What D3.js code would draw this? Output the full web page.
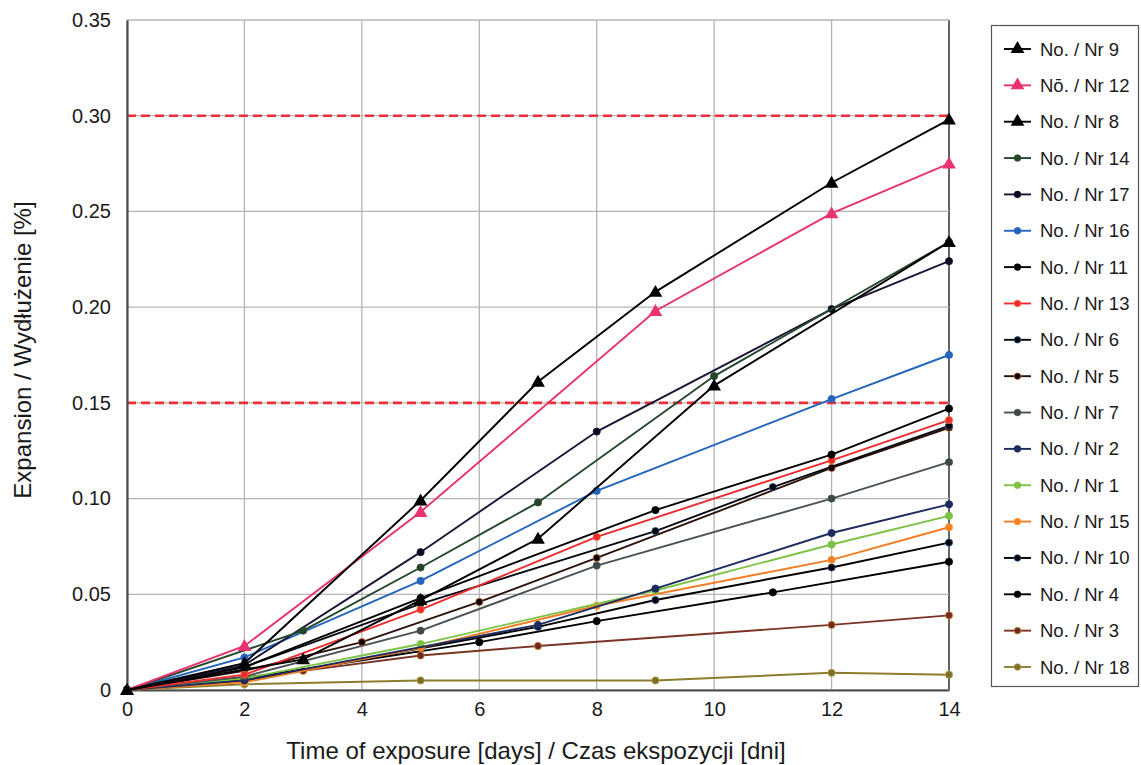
<!DOCTYPE html>
<html><head><meta charset="utf-8">
<script src="https://cdn.jsdelivr.net/npm/d3@7"></script>
<style>
body{margin:0;background:#fff}
text{font-family:"Liberation Sans",Arial,sans-serif;fill:#1a1a1a}
</style>
</head><body>
<svg id="chart" width="1141" height="765"></svg>
<script>
// ---- data ----
const xTicks = [0, 2, 4, 6, 8, 10, 12, 14];
const yTicks = [0, 0.05, 0.10, 0.15, 0.20, 0.25, 0.30, 0.35];
const limitLines = [0.30, 0.15];
const xTitle = "Time of exposure [days] / Czas ekspozycji [dni]";
const yTitle = "Expansion / Wydłużenie [%]";

const seriesNames = ["No. / Nr 9", "Nō. / Nr 12", "No. / Nr 8", "No. / Nr 14", "No. / Nr 17", "No. / Nr 16",
  "No. / Nr 11", "No. / Nr 13", "No. / Nr 6", "No. / Nr 5", "No. / Nr 7", "No. / Nr 2", "No. / Nr 1",
  "No. / Nr 15", "No. / Nr 10", "No. / Nr 4", "No. / Nr 3", "No. / Nr 18"];

const daysNr9  = [0, 2, 5, 7, 9, 12, 14];
const expNr9   = [0, 0.014, 0.099, 0.161, 0.208, 0.265, 0.298];
const daysNr12 = [0, 2, 5, 9, 12, 14];
const expNr12  = [0, 0.023, 0.093, 0.198, 0.249, 0.275];
const daysNr8  = [0, 3, 5, 7, 10, 14];
const expNr8   = [0, 0.016, 0.047, 0.079, 0.159, 0.234];
const daysNr14 = [0, 3, 5, 7, 10, 14];
const expNr14  = [0, 0.031, 0.064, 0.098, 0.164, 0.234];
const daysNr17 = [0, 2, 5, 8, 12, 14];
const expNr17  = [0, 0.013, 0.072, 0.135, 0.199, 0.224];
const daysNr16 = [0, 2, 5, 8, 12, 14];
const expNr16  = [0, 0.017, 0.057, 0.104, 0.152, 0.175];
const daysNr11 = [0, 2, 5, 9, 12, 14];
const expNr11  = [0, 0.012, 0.048, 0.094, 0.123, 0.147];
const daysNr13 = [0, 2, 5, 8, 12, 14];
const expNr13  = [0, 0.008, 0.042, 0.080, 0.120, 0.141];
const daysNr6  = [0, 2, 5, 9, 11, 14];
const expNr6   = [0, 0.012, 0.045, 0.083, 0.106, 0.138];
const daysNr5  = [0, 2, 4, 6, 8, 12, 14];
const expNr5   = [0, 0.010, 0.025, 0.046, 0.069, 0.116, 0.137];
const daysNr7  = [0, 2, 5, 8, 12, 14];
const expNr7   = [0, 0.007, 0.031, 0.065, 0.100, 0.119];
const daysNr2  = [0, 2, 7, 9, 12, 14];
const expNr2   = [0, 0.005, 0.034, 0.053, 0.082, 0.097];
const daysNr1  = [0, 2, 5, 9, 12, 14];
const expNr1   = [0, 0.006, 0.024, 0.052, 0.076, 0.091];
const daysNr15 = [0, 2, 5, 8, 12, 14];
const expNr15  = [0, 0.004, 0.022, 0.044, 0.068, 0.085];
const daysNr10 = [0, 2, 7, 9, 12, 14];
const expNr10  = [0, 0.005, 0.033, 0.047, 0.064, 0.077];
const daysNr4  = [0, 2, 6, 8, 11, 14];
const expNr4   = [0, 0.006, 0.025, 0.036, 0.051, 0.067];
const daysNr3  = [0, 3, 5, 7, 12, 14];
const expNr3   = [0, 0.010, 0.018, 0.023, 0.034, 0.039];
const daysNr18 = [0, 2, 5, 9, 12, 14];
const expNr18  = [0, 0.003, 0.005, 0.005, 0.009, 0.008];

const seriesDays = [daysNr9, daysNr12, daysNr8, daysNr14, daysNr17, daysNr16, daysNr11, daysNr13, daysNr6,
  daysNr5, daysNr7, daysNr2, daysNr1, daysNr15, daysNr10, daysNr4, daysNr3, daysNr18];
const seriesExp = [expNr9, expNr12, expNr8, expNr14, expNr17, expNr16, expNr11, expNr13, expNr6,
  expNr5, expNr7, expNr2, expNr1, expNr15, expNr10, expNr4, expNr3, expNr18];

// ---- styles ----
const lineColors = ["#000000", "#e8336f", "#000000", "#24472a", "#1b1535", "#2464bd", "#000000", "#ee2a2e",
  "#0a0a14", "#2a1208", "#4a5252", "#1e2b5e", "#7cc245", "#f47c22", "#000000", "#000000", "#7a3324", "#8c7d2e"];
const markerFills = ["#000000", "#e8336f", "#000000", "#24472a", "#0d0a20", "#2464bd", "#000000", "#ee2a2e",
  "#000000", "#000000", "#3d4848", "#1e2b5e", "#7cc245", "#f47c22", "#000000", "#000000", "#6e2a1e", "#7d6f2a"];
const markerEdges = ["#000000", "#e8336f", "#000000", "#24472a", "#1b1535", "#2464bd", "#000000", "#f07030",
  "#2a5aa0", "#e06a30", "#4a5252", "#1e2b5e", "#7cc245", "#f8a030", "#2a5aa0", "#000000", "#d08a30", "#b8a040"];
const markerShapes = ["tri", "tri", "tri", "dot", "dot", "dot", "dot", "dot", "dot", "dot", "dot", "dot", "dot",
  "dot", "dot", "dot", "dot", "dot"];

const series = seriesNames.map((name, i) => ({
  name, days: seriesDays[i], exp: seriesExp[i],
  color: lineColors[i], fill: markerFills[i], edge: markerEdges[i], shape: markerShapes[i]
}));

// ---- chart ----
const svg = d3.select("#chart");
const L = 127, R = 949, T = 20, B = 690;
const x = d3.scaleLinear().domain([0, 14]).range([L, R]);
const y = d3.scaleLinear().domain([0, 0.35]).range([B, T]);

// grid
const grid = svg.append("g");
grid.selectAll("line.v").data(xTicks).join("line")
  .attr("x1", d => x(d)).attr("x2", d => x(d)).attr("y1", T).attr("y2", B)
  .attr("stroke", d => d === 14 ? "#555" : "#b5b5b5").attr("stroke-width", d => d === 14 ? 1.8 : 1.3);
grid.selectAll("line.h").data(yTicks).join("line")
  .attr("x1", L).attr("x2", R).attr("y1", d => y(d)).attr("y2", d => y(d))
  .attr("stroke", "#b5b5b5").attr("stroke-width", 1.3);

// limit lines
svg.append("g").selectAll("line").data(limitLines).join("line")
  .attr("x1", L).attr("x2", R).attr("y1", d => y(d)).attr("y2", d => y(d))
  .attr("stroke", "#ee2f3a").attr("stroke-width", 2.6).attr("stroke-dasharray", "9,5");

// axes
const xAxis = d3.axisBottom(x).tickValues(xTicks).tickSize(0).tickPadding(12).tickFormat(d3.format("d"));
const yAxis = d3.axisLeft(y).tickValues(yTicks).tickSize(0).tickPadding(16)
  .tickFormat(d => d === 0 ? "0" : d3.format(".2f")(d));
const gx = svg.append("g").attr("transform", `translate(0,${B})`).call(xAxis);
const gy = svg.append("g").attr("transform", `translate(${L},0)`).call(yAxis);
[gx, gy].forEach(g => {
  g.select(".domain").attr("stroke", "#4d4d4d").attr("stroke-width", 2.2);
  g.selectAll("text").attr("font-size", 20).attr("fill", "#1a1a1a")
    .style("font-family", '"Liberation Sans", Arial, sans-serif');
});

// series lines + markers
const line = d3.line().x(d => x(d[0])).y(d => y(d[1]));
const tri = d3.symbol().type(d3.symbolTriangle).size(82);
const plot = svg.append("g");
series.slice().reverse().forEach(s => {
  const pts = s.days.map((d, i) => [d, s.exp[i]]);
  plot.append("path").datum(pts).attr("d", line)
    .attr("fill", "none").attr("stroke", s.color).attr("stroke-width", 1.9);
  if (s.shape === "tri") {
    plot.selectAll(null).data(pts).join("path")
      .attr("d", tri).attr("transform", d => `translate(${x(d[0])},${y(d[1]) + 1})`)
      .attr("fill", s.fill);
  } else {
    plot.selectAll(null).data(pts).join("circle")
      .attr("cx", d => x(d[0])).attr("cy", d => y(d[1])).attr("r", 3.6)
      .attr("fill", s.fill).attr("stroke", s.edge).attr("stroke-width", 0.8);
  }
});

// axis titles
svg.append("text").attr("x", 536).attr("y", 759).attr("text-anchor", "middle")
  .attr("font-size", 24).text(xTitle);
svg.append("text").attr("transform", `translate(31,350) rotate(-90)`).attr("text-anchor", "middle")
  .attr("font-size", 24).text(yTitle);

// legend
const lg = svg.append("g");
lg.append("rect").attr("x", 991.5).attr("y", 25.5).attr("width", 147).attr("height", 661)
  .attr("fill", "#fff").attr("stroke", "#555").attr("stroke-width", 1.2);
const ly = d3.scaleLinear().domain([0, series.length - 1]).range([49, 667]);
series.forEach((s, i) => {
  const g = lg.append("g").attr("transform", `translate(0,${ly(i)})`);
  g.append("line").attr("x1", 1004).attr("x2", 1031).attr("y1", 0).attr("y2", 0)
    .attr("stroke", s.color).attr("stroke-width", 1.9);
  if (s.shape === "tri") {
    g.append("path").attr("d", tri()).attr("transform", "translate(1017.5,0)").attr("fill", s.fill);
  } else {
    g.append("circle").attr("cx", 1017.5).attr("cy", 0).attr("r", 3.3)
      .attr("fill", s.fill).attr("stroke", s.edge).attr("stroke-width", 0.8);
  }
  g.append("text").attr("x", 1040).attr("y", 6.5).attr("font-size", 18.5).text(s.name);
});
</script>
</body></html>
